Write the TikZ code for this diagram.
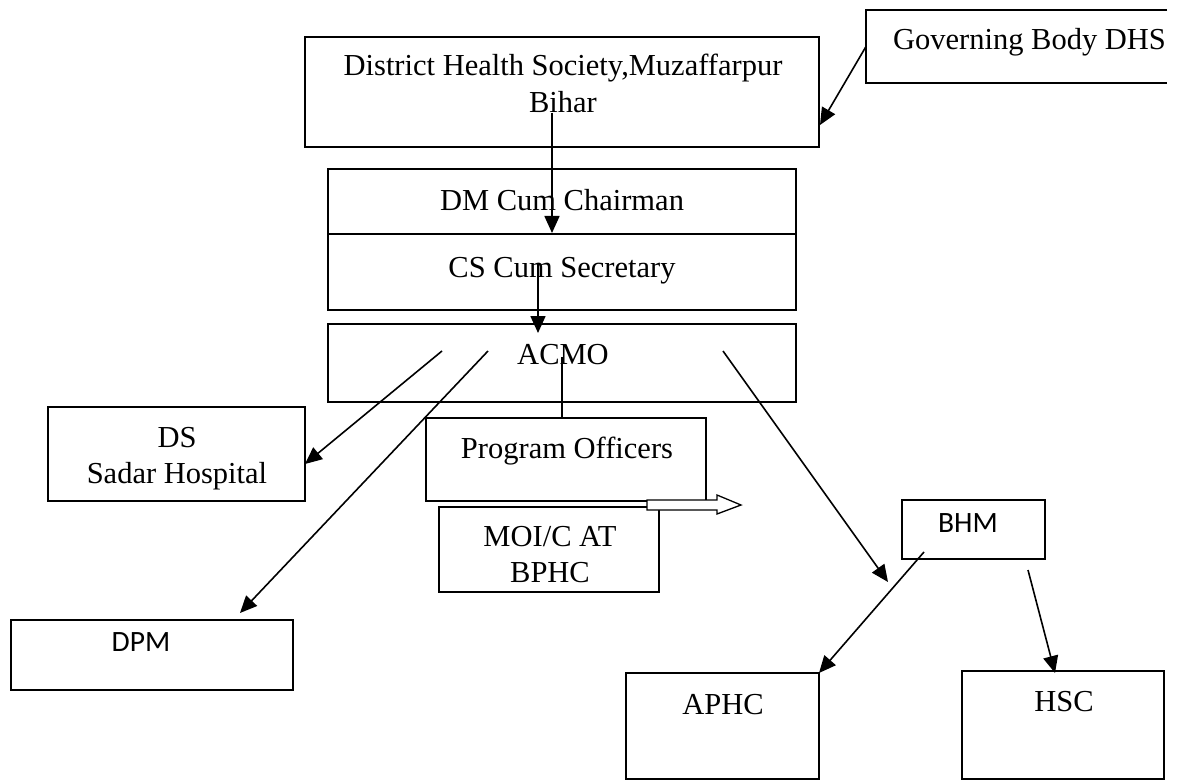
\documentclass[tikz,border=0pt]{standalone}
\usepackage{fontspec}
\setmainfont{Liberation Serif}
\newfontfamily\calibfont{Carlito}
\usetikzlibrary{arrows.meta}
\begin{document}
\begin{tikzpicture}[x=1pt,y=-1pt,
  box/.style={draw, line width=2pt, inner sep=0pt, outer sep=0pt},
  txt/.style={font=\fontsize{30.5}{36}\selectfont, inner sep=0pt, anchor=base},
  stxt/.style={font=\calibfont\fontsize{29.5}{35}\selectfont, inner sep=0pt, anchor=base},
  conn/.style={line width=1.6pt, -{Triangle[length=17pt,width=15pt]}},
  link/.style={line width=1.6pt},
  hollow/.style={draw, line width=1.3pt, fill=white}]
\useasboundingbox (0,0) rectangle (1187,781);

% boxes
\node[box, minimum width=514pt, minimum height=110pt] (dhs) at (562,92) {};
\node[inner sep=0pt, outer sep=0pt, minimum width=301pt, minimum height=73pt] (gov) at (1016.5,46.5) {};
\draw[line width=2pt] (gov.north east) -- (gov.north west) -- (gov.south west) -- (gov.south east);
\node[box, minimum width=468pt, minimum height=65pt] (dm) at (562,201.5) {};
\node[box, minimum width=468pt, minimum height=76pt] (cs) at (562,272) {};
\node[box, minimum width=468pt, minimum height=78pt] (acmo) at (562,363) {};
\node[box, minimum width=280pt, minimum height=83pt] (po) at (566,459.5) {};
\node[box, minimum width=220pt, minimum height=85pt] (moic) at (549,549.5) {};
\node[box, minimum width=257pt, minimum height=94pt] (ds) at (176.5,454) {};
\node[box, minimum width=282pt, minimum height=70pt] (dpm) at (152,655) {};
\node[box, minimum width=143pt, minimum height=59pt] (bhm) at (973.5,529.5) {};
\node[box, minimum width=193pt, minimum height=106pt] (aphc) at (722.5,726) {};
\node[box, minimum width=202pt, minimum height=108pt] (hsc) at (1063,725) {};

% texts
\node[txt] (t-dhs1) at (563,76) {District Health Society,Muzaffarpur};
\node[txt] (t-dhs2) at (563,113) {Bihar};
\node[txt] (t-gov) at (1029.5,50) {Governing Body DHS};
\node[txt] (t-dm) at (562,211) {DM Cum Chairman};
\node[txt] (t-cs) at (562,277) {CS Cum Secretary};
\node[txt] (t-acmo) at (563,364) {ACMO};
\node[txt] (t-po) at (567,458) {Program Officers};
\node[txt] (t-moi1) at (550,546) {MOI/C AT};
\node[txt] (t-moi2) at (550,582) {BPHC};
\node[txt] (t-ds1) at (177,447) {DS};
\node[txt] (t-ds2) at (177,483) {Sadar Hospital};
\node[stxt] (t-dpm) at (141,651) {DPM};
\node[stxt] (t-bhm) at (968,532) {BHM};
\node[txt] (t-aphc) at (723,714) {APHC};
\node[txt] (t-hsc) at (1064,711) {HSC};

% connector ends
\coordinate (a1) at (820,125);
\coordinate (b0) at (552,113);
\coordinate (b1) at (552,233);
\coordinate (c0) at (538,263);
\coordinate (c1) at (538,333);
\coordinate (d0) at (562,357);
\coordinate (e0) at (442,351);
\coordinate (e1) at (305,464);
\coordinate (f0) at (488,351);
\coordinate (f1) at (240,613);
\coordinate (g0) at (723,351);
\coordinate (g1) at (888,582);
\coordinate (h0) at (924,552);
\coordinate (i0) at (1028,570);
\coordinate (i1) at (1055,673);

% connectors
\draw[conn] (gov.west) -- (a1);
\draw[conn] (b0) -- (b1);
\draw[conn] (c0) -- (c1);
\draw[link] (d0) -- (d0 |- po.north);
\draw[conn] (e0) -- (e1);
\draw[conn] (f0) -- (f1);
\draw[conn] (g0) -- (g1);
\draw[conn] (h0) -- (aphc.north east);
\draw[conn] (i0) -- (i1);

% hollow block arrow
\draw[hollow] (647,500) -- (717,500) -- (717,495) -- (741,505) -- (717,514) -- (717,510) -- (647,510) -- cycle;
\end{tikzpicture}
\end{document}
